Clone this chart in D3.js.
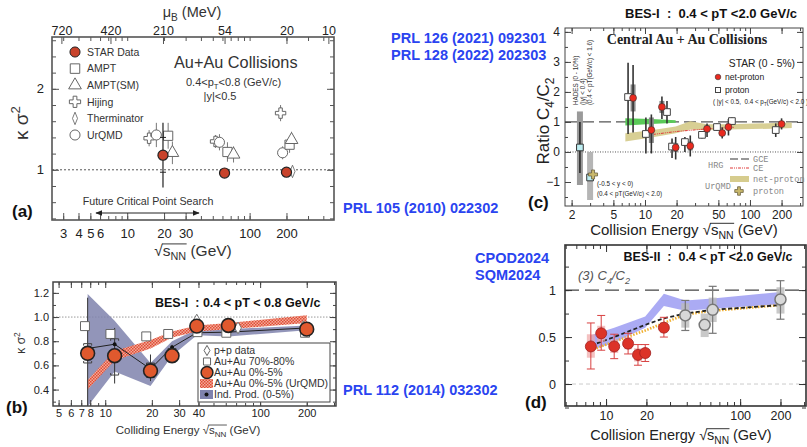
<!DOCTYPE html>
<html>
<head>
<meta charset="utf-8">
<script src="https://cdn.jsdelivr.net/npm/d3@7"></script>
<style>
  body { margin: 0; background: #fff; }
  text { font-family: "Liberation Sans", Arial, sans-serif; }
</style>
</head>
<body>
<script>
// ---------- (a) kappa*sigma^2, PRL 105 (2010) ----------
var aStarE = [19.6, 62.4, 200];
var aStarV = [1.18, 0.96, 0.97];
var aStarLo = [0.78, 0.94, 0.95];
var aStarHi = [1.58, 0.98, 0.99];
var aStarSysLo = [0.97, 0.95, 0.96];
var aStarSysHi = [1.40, 0.97, 0.98];
var aHijingE = [15.1, 52.7, 179];
var aHijingV = [1.39, 1.35, 1.70];
var aHijingErr = [0.1, 0.08, 0.1];
var aUrqmdE = [17.3, 56.7, 186];
var aUrqmdV = [1.43, 1.34, 1.21];
var aUrqmdErr = [0.15, 0.1, 0.08];
var aAmptE = [21.6, 65.9, 212];
var aAmptV = [1.42, 1.22, 1.31];
var aAmptErr = [0.16, 0.12, 0.1];
var aAmptSmE = [23.4, 73.9, 220];
var aAmptSmV = [1.21, 1.19, 1.37];
var aAmptSmErr = [0.14, 0.1, 0.1];
var aThermE = [224];
var aThermV = [0.98];
var aThermErr = [0.06];
var aXTicks = [3, 4, 5, 6, 10, 20, 30, 100, 200];
var aYTicks = [1, 2];
var aMuBE = [2.9, 7.3, 19.6, 62.4, 200, 440];
var aMuBLabels = ["720", "420", "210", "54", "20", "10"];
var aLegend = ["STAR Data", "AMPT", "AMPT(SM)", "Hijing", "Therminator", "UrQMD"];

// ---------- (b) kappa*sigma^2, PRL 112 (2014) ----------
var bE = [7.7, 11.5, 19.6, 27, 39, 62.4, 200];
var bCentral = [0.70, 0.68, 0.555, 0.68, 0.925, 0.93, 0.90];
var bStatLo = [0.26, 0.45, 0.47, 0.62, 0.88, 0.89, 0.87];
var bStatHi = [1.16, 0.91, 0.69, 0.77, 0.97, 0.97, 0.93];
var bSysLo = [0.62, 0.52, 0.50, 0.63, 0.89, 0.90, 0.88];
var bSysHi = [0.78, 0.82, 0.62, 0.74, 0.96, 0.96, 0.92];
var bIndProd = [0.74, 0.775, 0.57, 0.75, 0.87, 0.875, 0.91];
var bIndLo = [0.26, 0.55, 0.43, 0.68, 0.85, 0.84, 0.89];
var bIndHi = [1.19, 0.97, 0.62, 0.80, 0.90, 0.90, 0.93];
var bUrqmdLo = [0.40, 0.64, 0.74, 0.83, 0.88, 0.90, 0.95];
var bUrqmdHi = [0.48, 0.72, 0.81, 0.88, 0.93, 0.95, 1.015];
var bPeriphE = [7.4, 10.8, 18.4, 25.5, 39.4, 60.5, 195];
var bPeriphV = [0.925, 0.86, 0.84, 0.86, 0.875, 0.87, 0.87];
var bPpE = [39, 72, 190];
var bPpV = [0.975, 0.91, 0.92];
var bXTicks = [5, 6, 7, 8, 10, 20, 30, 40, 100, 200];
var bYTicks = [0.4, 0.6, 0.8, 1.0, 1.2];
var bLegend = ["p+p data", "Au+Au 70%-80%", "Au+Au 0%-5%", "Au+Au 0%-5% (UrQMD)", "Ind. Prod. (0-5%)"];

// ---------- (c) C4/C2, PRL 126 / PRL 128 ----------
var cE = [7.7, 11.5, 14.5, 19.6, 27, 39, 54.4, 62.4, 200];
var cNetP = [1.8, 0.73, 1.5, 0.15, 0.2, 0.77, 0.63, 0.83, 0.93];
var cNetPLo = [0.65, -0.05, 1.1, -0.25, -0.15, 0.5, 0.45, 0.55, 0.75];
var cNetPHi = [2.9, 1.25, 1.85, 0.5, 0.55, 0.95, 0.82, 1.1, 1.12];
var cNetPSysLo = [1.35, 0.3, 1.3, 0.0, 0.05, 0.65, 0.55, 0.72, 0.85];
var cNetPSysHi = [2.25, 1.15, 1.7, 0.3, 0.35, 0.9, 0.72, 0.95, 1.0];
var cProtE = [6.9, 10.2, 16.2, 18.1, 24.0, 34.9, 48.5, 67.3, 176];
var cProt = [1.83, 0.6, 1.33, 0.18, 0.33, 0.57, 0.83, 1.03, 0.73];
var cProtLo = [0.6, -0.05, 0.95, -0.2, 0.0, 0.45, 0.7, 0.9, 0.5];
var cProtHi = [2.97, 1.15, 1.7, 0.45, 0.5, 0.7, 0.95, 1.15, 0.95];
var cHadesE = [2.4];
var cHadesV = [0.15];
var cHadesLo = [-0.7];
var cHadesHi = [1.0];
var cHadesSysLo = [-1.1];
var cHadesSysHi = [1.35];
var cFxtE = [3.0];
var cFxtV = [-0.85];
var cFxtSysLo = [-1.6];
var cFxtSysHi = [0.0];
var cUrqmdProtE = [3.2];
var cUrqmdProtV = [-0.75];
var cGreenE = [6.5, 11.5, 19.6];
var cGreenLo = [0.88, 0.93, 0.97];
var cGreenHi = [1.12, 1.10, 1.06];
var cTanE = [6.5, 11.5, 19.6, 27, 39, 62.4, 200, 250];
var cTanLo = [0.35, 0.48, 0.62, 0.75, 0.72, 0.75, 0.78, 0.80];
var cTanHi = [0.62, 0.72, 0.85, 1.02, 0.92, 0.92, 0.97, 0.98];
var cCeE = [10, 19.6, 39, 70];
var cCeV = [0.55, 0.68, 0.77, 0.82];
var cXTicks = [2, 5, 10, 20, 50, 100, 200];
var cYTicks = [-1, 0, 1, 2, 3, 4];

// ---------- (d) C4/C2, CPOD2024 / SQM2024 ----------
var dE = [7.7, 9.2, 11.5, 14.6, 17.3, 19.6, 27];
var dV = [0.40, 0.54, 0.40, 0.43, 0.31, 0.33, 0.60];
var dLo = [0.16, 0.36, 0.27, 0.32, 0.20, 0.24, 0.50];
var dHi = [0.65, 0.73, 0.53, 0.54, 0.42, 0.42, 0.71];
var dSysLo = [0.28, 0.45, 0.33, 0.37, 0.24, 0.28, 0.55];
var dSysHi = [0.53, 0.62, 0.47, 0.50, 0.38, 0.38, 0.66];
var dOldE = [39, 54.4, 62.4, 200];
var dOldV = [0.73, 0.63, 0.79, 0.90];
var dOldLo = [0.57, 0.60, 0.54, 0.69];
var dOldHi = [0.89, 0.66, 1.04, 1.10];
var dOldSysLo = [0.60, 0.50, 0.66, 0.75];
var dOldSysHi = [0.86, 0.75, 0.92, 1.03];
var dBandE = [7.7, 11.5, 19.6, 27, 39, 62.4, 200];
var dBandLo = [0.36, 0.44, 0.60, 0.83, 0.78, 0.80, 0.85];
var dBandHi = [0.52, 0.60, 0.72, 0.96, 0.89, 0.91, 0.98];
var dHrgE = [7.7, 11.5, 19.6, 27, 39, 62.4, 200];
var dHrgV = [0.41, 0.50, 0.63, 0.70, 0.75, 0.79, 0.84];
var dCeV = [0.36, 0.45, 0.57, 0.65, 0.74, 0.78, 0.84];
var dXTicks = [10, 20, 100, 200];
var dYTicks = [0, 0.5, 1];

//---------- setup ----------
var svg = d3.select("body").append("svg").attr("width", 807).attr("height", 447);
var defs = svg.append("defs");

var hatch = defs.append("pattern").attr("id", "hatch").attr("width", 3).attr("height", 3)
    .attr("patternUnits", "userSpaceOnUse");
hatch.append("rect").attr("width", 3).attr("height", 3).attr("fill", "#f3ab98");
hatch.append("rect").attr("width", 1.5).attr("height", 1.5).attr("fill", "#e04c36");
hatch.append("rect").attr("x", 1.5).attr("y", 1.5).attr("width", 1.5).attr("height", 1.5).attr("fill", "#e04c36");

defs.append("marker").attr("id", "arr").attr("viewBox", "0 0 10 10").attr("refX", 9).attr("refY", 5)
    .attr("markerWidth", 7).attr("markerHeight", 7).attr("orient", "auto-start-reverse")
    .append("path").attr("d", "M0,1L10,5L0,9z").attr("fill", "#222");

function clipFor(id, x, y) {
    defs.append("clipPath").attr("id", id).append("rect")
        .attr("x", x.range()[0]).attr("y", y.range()[1])
        .attr("width", x.range()[1] - x.range()[0]).attr("height", y.range()[0] - y.range()[1]);
    return svg.append("g").attr("clip-path", "url(#" + id + ")");
}

// frame with inward ticks on all four sides
function drawAxes(x, y, o) {
    var l = x.range()[0], r = x.range()[1], b = y.range()[0], t = y.range()[1];
    var g = svg.append("g");
    var minorX = x.ticks();
    function add(axis, tx, ty) {
        g.append("g").attr("transform", "translate(" + tx + "," + ty + ")").call(axis);
    }
    add(d3.axisBottom(x).tickValues(minorX).tickFormat("").tickSizeInner(-o.minor).tickSizeOuter(0), 0, b);
    add(d3.axisBottom(x).tickValues(o.xMajor).tickFormat(d3.format("d")).tickSizeInner(-o.major)
        .tickSizeOuter(0).tickPadding(o.xPad), 0, b);
    add(d3.axisTop(x).tickValues(minorX).tickFormat("").tickSizeInner(-o.minor).tickSizeOuter(0), 0, t);
    if (o.topMajor) add(d3.axisTop(x).tickValues(o.xMajor).tickFormat("").tickSizeInner(-o.major).tickSizeOuter(0), 0, t);
    add(d3.axisLeft(y).tickValues(o.yMinor).tickFormat("").tickSizeInner(-o.minor).tickSizeOuter(0), l, 0);
    add(d3.axisLeft(y).tickValues(o.yMajor).tickFormat(o.yFmt).tickSizeInner(-o.major)
        .tickSizeOuter(0).tickPadding(o.yPad), l, 0);
    add(d3.axisRight(y).tickValues(o.yMinor).tickFormat("").tickSizeInner(-o.minor).tickSizeOuter(0), r, 0);
    add(d3.axisRight(y).tickValues(o.yMajor).tickFormat("").tickSizeInner(-o.major).tickSizeOuter(0), r, 0);
    g.selectAll(".domain").remove();
    g.selectAll("line").attr("stroke", o.color).attr("stroke-width", 1);
    g.selectAll("text").attr("font-size", o.fs).attr("fill", "#222");
    svg.append("rect").attr("x", l).attr("y", t).attr("width", r - l).attr("height", b - t)
        .attr("fill", "none").attr("stroke", o.color).attr("stroke-width", o.frameW);
    return g;
}

// text with sub/superscript parts: [[str, "sub"|"sup"|null], ...]
function rich(x, y, parts, fs, extra) {
    var t = svg.append("text").attr("x", x).attr("y", y).attr("font-size", fs).style("white-space", "pre");
    var shift = 0;
    parts.forEach(function (p) {
        var s = t.append("tspan").text(p[0]);
        var want = p[1] === "sub" ? fs * 0.28 : (p[1] === "sup" ? -fs * 0.42 : 0);
        if (want !== shift) { s.attr("dy", want - shift); shift = want; }
        if (p[1]) s.attr("font-size", fs * 0.7);
    });
    if (extra) extra(t);
    return t;
}

// "... sqrt(s_NN) (GeV)" label with an overline over s_NN
function sqrtLabel(cx, y, pre, fs, color) {
    var t = rich(cx, y, [[pre + "\u221A", null], ["s", null], ["NN", "sub"], [" (GeV)", null]], fs, function (t) {
        t.attr("text-anchor", "middle").attr("fill", color);
    });
    var n = (pre + "\u221A").length;
    var node = t.node();
    var e1 = node.getExtentOfChar(n - 1), e2 = node.getExtentOfChar(n + 2);
    svg.append("line").attr("x1", e1.x + e1.width - 0.8).attr("x2", e2.x + e2.width + 0.5)
        .attr("y1", y - fs * 0.78).attr("y2", y - fs * 0.78)
        .attr("stroke", color).attr("stroke-width", Math.max(0.8, fs / 16));
}

function points(g, x, y, E, V, type, size, fill, stroke, sw, sx) {
    g.selectAll(null).data(d3.zip(E, V)).join("path")
        .attr("transform", function (d) {
            return "translate(" + x(d[0]) + "," + y(d[1]) + ")" + (sx ? " scale(" + sx + ",1)" : "");
        })
        .attr("d", d3.symbol().type(type).size(size)())
        .attr("fill", fill).attr("stroke", stroke).attr("stroke-width", sw);
}

function errBars(g, x, y, E, lo, hi, color, w, cap) {
    var rows = d3.zip(E, lo, hi);
    g.selectAll(null).data(rows).join("line")
        .attr("x1", function (d) { return x(d[0]); }).attr("x2", function (d) { return x(d[0]); })
        .attr("y1", function (d) { return y(d[1]); }).attr("y2", function (d) { return y(d[2]); })
        .attr("stroke", color).attr("stroke-width", w);
    if (cap) {
        [1, 2].forEach(function (k) {
            g.selectAll(null).data(rows).join("line")
                .attr("x1", function (d) { return x(d[0]) - cap; }).attr("x2", function (d) { return x(d[0]) + cap; })
                .attr("y1", function (d) { return y(d[k]); }).attr("y2", function (d) { return y(d[k]); })
                .attr("stroke", color).attr("stroke-width", w || 1);
        });
    }
}

function band(g, x, y, E, lo, hi, fill, op) {
    var area = d3.area()
        .x(function (d) { return x(d[0]); })
        .y0(function (d) { return y(d[1]); })
        .y1(function (d) { return y(d[2]); });
    g.append("path").datum(d3.zip(E, lo, hi)).attr("d", area).attr("fill", fill).attr("fill-opacity", op || 1);
}

function curve(g, x, y, E, V, color, w, dash) {
    var line = d3.line().x(function (d) { return x(d[0]); }).y(function (d) { return y(d[1]); });
    g.append("path").datum(d3.zip(E, V)).attr("d", line).attr("fill", "none")
        .attr("stroke", color).attr("stroke-width", w).attr("stroke-dasharray", dash || null);
}

function hline(g, x, y, v, color, w, dash) {
    g.append("line").attr("x1", x.range()[0]).attr("x2", x.range()[1])
        .attr("y1", y(v)).attr("y2", y(v)).attr("stroke", color).attr("stroke-width", w)
        .attr("stroke-dasharray", dash);
}

function label(x, y, str, fs, o) {
    o = o || {};
    return svg.append("text").attr("x", x).attr("y", y).attr("font-size", fs)
        .attr("font-weight", o.bold ? "bold" : null).attr("font-style", o.italic ? "italic" : null)
        .attr("fill", o.fill || "#222").attr("text-anchor", o.anchor || "start")
        .style("font-family", o.family || null).style("white-space", "pre").text(str);
}

var blue = "#2a44f0";

//---------- panel (a) ----------
var aX = d3.scaleLog().domain([2.43, 489]).range([52, 334]);
var aY = d3.scaleLinear().domain([0.38, 2.64]).range([220, 37]);
var aG = clipFor("clipA", aX, aY);
hline(aG, aX, aY, 1, "#555", 1, "2,2");
drawAxes(aX, aY, {
    xMajor: aXTicks, yMajor: aYTicks, yMinor: d3.range(0.4, 2.61, 0.2), yFmt: d3.format("d"),
    major: 7, minor: 4, xPad: 9, yPad: 8, fs: 13, color: "#555", frameW: 1.6
});
// top mu_B axis
svg.append("g").attr("transform", "translate(0,37)")
    .call(d3.axisTop(aX).tickValues(aMuBE).tickFormat(function (d, i) { return aMuBLabels[i]; })
        .tickSizeInner(-7).tickSizeOuter(0).tickPadding(2))
    .call(function (g) {
        g.select(".domain").remove();
        g.selectAll("line").attr("stroke", "#555");
        g.selectAll("text").attr("font-size", 12.5).attr("fill", "#222");
    });
rich(192, 17, [["\u03BC", null], ["B", "sub"], [" (MeV)", null]], 14.5, function (t) {
    t.attr("text-anchor", "middle").attr("fill", "#333");
});

// models
errBars(aG, aX, aY, aHijingE, aHijingV.map(function (v, i) { return v - aHijingErr[i]; }),
    aHijingV.map(function (v, i) { return v + aHijingErr[i]; }), "#777", 1);
errBars(aG, aX, aY, aUrqmdE, aUrqmdV.map(function (v, i) { return v - aUrqmdErr[i]; }),
    aUrqmdV.map(function (v, i) { return v + aUrqmdErr[i]; }), "#777", 1);
errBars(aG, aX, aY, aAmptE, aAmptV.map(function (v, i) { return v - aAmptErr[i]; }),
    aAmptV.map(function (v, i) { return v + aAmptErr[i]; }), "#777", 1);
errBars(aG, aX, aY, aAmptSmE, aAmptSmV.map(function (v, i) { return v - aAmptSmErr[i]; }),
    aAmptSmV.map(function (v, i) { return v + aAmptSmErr[i]; }), "#777", 1);
errBars(aG, aX, aY, aThermE, aThermV.map(function (v, i) { return v - aThermErr[i]; }),
    aThermV.map(function (v, i) { return v + aThermErr[i]; }), "#777", 1);
points(aG, aX, aY, aHijingE, aHijingV, d3.symbolCross, 60, "#fff", "#666", 1);
points(aG, aX, aY, aUrqmdE, aUrqmdV, d3.symbolCircle, 80, "#fff", "#666", 1);
points(aG, aX, aY, aAmptE, aAmptV, d3.symbolSquare, 85, "#fff", "#666", 1);
points(aG, aX, aY, aAmptSmE, aAmptSmV, d3.symbolTriangle, 70, "#fff", "#666", 1);
points(aG, aX, aY, aThermE, aThermV, d3.symbolDiamond, 45, "#fff", "#666", 1, 0.7);
// STAR data
errBars(aG, aX, aY, aStarE, aStarLo, aStarHi, "#222", 1.2);
errBars(aG, aX, aY, aStarE, aStarSysLo, aStarSysHi, "#222", 0, 3);
points(aG, aX, aY, aStarE, aStarV, d3.symbolCircle, 80, "#c8432b", "#222", 1.2);

// legend (a)
var aLegSym = [
    [d3.symbolCircle, 80, "#c8432b", "#222", 1],
    [d3.symbolSquare, 90, "#fff", "#666", 1],
    [d3.symbolTriangle, 70, "#fff", "#666", 1],
    [d3.symbolCross, 70, "#fff", "#666", 1],
    [d3.symbolDiamond, 45, "#fff", "#666", 1, 0.7],
    [d3.symbolCircle, 80, "#fff", "#666", 1]
];
aLegend.forEach(function (name, i) {
    var yy = 52 + i * 16.6, s = aLegSym[i];
    svg.append("path").attr("d", d3.symbol().type(s[0]).size(s[1])())
        .attr("transform", "translate(75," + yy + ")" + (s[5] ? " scale(" + s[5] + ",1)" : ""))
        .attr("fill", s[2]).attr("stroke", s[3]).attr("stroke-width", s[4]);
    label(87, yy + 3.8, name, 10.5, {fill: "#333"});
});
label(174, 68, "Au+Au Collisions", 16.3, {fill: "#333"});
rich(186, 86, [["0.4<p", null], ["T", "sub"], ["<0.8 (GeV/c)", null]], 11, function (t) { t.attr("fill", "#333"); });
label(220, 100, "|y|<0.5", 11, {fill: "#333", anchor: "middle"});
label(148, 205, "Future Critical Point Search", 10.7, {fill: "#333", anchor: "middle"});
svg.append("line").attr("x1", 96).attr("x2", 199).attr("y1", 213).attr("y2", 213)
    .attr("stroke", "#222").attr("stroke-width", 1)
    .attr("marker-start", "url(#arr)").attr("marker-end", "url(#arr)");
label(12, 217, "(a)", 17, {bold: true, fill: "#111"});
rich(0, 0, [["\u03BA \u03C3", null], ["2", "sup"]], 19, function (t) {
    t.attr("transform", "translate(28,123) rotate(-90)").attr("text-anchor", "middle").attr("fill", "#333");
});
sqrtLabel(193, 256, "", 15.5, "#333");
label(343, 213, "PRL 105 (2010) 022302", 14.5, {bold: true, fill: blue});

//---------- panel (b) ----------
var bX = d3.scaleLog().domain([4.6, 309]).range([53, 336]);
var bY = d3.scaleLinear().domain([0.264, 1.29]).range([406, 282]);
var bG = clipFor("clipB", bX, bY);
hline(bG, bX, bY, 1, "#999", 1, "1.5,1.5");
band(bG, bX, bY, bE, bIndLo, bIndHi, "#7f82ad", 0.85);
band(bG, bX, bY, bE, bUrqmdLo, bUrqmdHi, "url(#hatch)", 1);
errBars(bG, bX, bY, bE, bStatLo, bStatHi, "#333", 1);
curve(bG, bX, bY, bE, bIndProd, "#222", 1);
points(bG, bX, bY, bE, bIndProd, d3.symbolCircle, 12, "#111", "none", 0);
points(bG, bX, bY, bPeriphE, bPeriphV, d3.symbolSquare, 80, "#fff", "#666", 1);
points(bG, bX, bY, bPpE, bPpV, d3.symbolDiamond, 40, "#fff", "#777", 1);
bG.selectAll(null).data(d3.zip(bE, bSysLo, bSysHi)).join("path")
    .attr("d", function (d) {
        var xx = bX(d[0]), lo = bY(d[1]), hi = bY(d[2]);
        return "M" + (xx - 4) + "," + (hi + 2) + "V" + hi + "H" + (xx + 4) + "V" + (hi + 2) +
            "M" + (xx - 4) + "," + (lo - 2) + "V" + lo + "H" + (xx + 4) + "V" + (lo - 2);
    })
    .attr("fill", "none").attr("stroke", "#444").attr("stroke-width", 1);
points(bG, bX, bY, bE, bCentral, d3.symbolCircle, 150, "#e0592e", "#222", 1.6);
drawAxes(bX, bY, {
    xMajor: bXTicks, yMajor: bYTicks, yMinor: d3.range(0.3, 1.29, 0.1), yFmt: d3.format(".1f"),
    major: 6, minor: 3, xPad: 3, yPad: 4, fs: 11, color: "#444", frameW: 1.5, topMajor: true
});
label(155, 307, "BES-I  : 0.4 < pT < 0.8 GeV/c", 12.5, {bold: true, fill: "#111"});
// legend (b)
svg.append("rect").attr("x", 198).attr("y", 343).attr("width", 132).attr("height", 59)
    .attr("fill", "#fff").attr("stroke", "#444").attr("stroke-width", 1);
var bLegY = [350.5, 361.5, 372.5, 383.5, 394.5];
svg.append("path").attr("d", d3.symbol().type(d3.symbolDiamond).size(30)())
    .attr("transform", "translate(207," + bLegY[0] + ")").attr("fill", "#fff").attr("stroke", "#666");
svg.append("path").attr("d", d3.symbol().type(d3.symbolSquare).size(50)())
    .attr("transform", "translate(207," + bLegY[1] + ")").attr("fill", "#fff").attr("stroke", "#666");
svg.append("path").attr("d", d3.symbol().type(d3.symbolCircle).size(110)())
    .attr("transform", "translate(207," + bLegY[2] + ")").attr("fill", "#e0592e").attr("stroke", "#222").attr("stroke-width", 1.5);
svg.append("rect").attr("x", 200).attr("y", bLegY[3] - 4.5).attr("width", 13).attr("height", 9).attr("fill", "url(#hatch)");
svg.append("rect").attr("x", 200).attr("y", bLegY[4] - 4.5).attr("width", 13).attr("height", 9).attr("fill", "#7f82ad");
svg.append("circle").attr("cx", 206.5).attr("cy", bLegY[4]).attr("r", 2).attr("fill", "#111");
bLegend.forEach(function (name, i) {
    label(214, bLegY[i] + 3.7, name, 10.5, {fill: "#333"});
});
label(6, 413, "(b)", 17, {bold: true, fill: "#111"});
rich(0, 0, [["\u03BA \u03C3", null], ["2", "sup"]], 12, function (t) {
    t.attr("transform", "translate(25,343) rotate(-90)").attr("text-anchor", "middle").attr("fill", "#333");
});
sqrtLabel(188, 434, "Colliding Energy ", 11.5, "#333");
label(343, 395, "PRL 112 (2014) 032302", 14.5, {bold: true, fill: blue});

//---------- panel (c) ----------
var cX = d3.scaleLog().domain([1.73, 320]).range([565, 803]);
var cY = d3.scaleLinear().domain([-1.8, 4.13]).range([206, 28]);
var cG = clipFor("clipC", cX, cY);
hline(cG, cX, cY, 0, "#555", 1, "1,1.5");
hline(cG, cX, cY, 1, "#555", 1.2, "12,5");
band(cG, cX, cY, cTanE, cTanLo, cTanHi, "#d6cc8e", 0.95);
band(cG, cX, cY, cGreenE, cGreenLo, cGreenHi, "#59c957", 1);
curve(cG, cX, cY, cCeE, cCeV, "#e03a3a", 1, "3,1,1,1,1,1");
// HADES and FXT
cG.selectAll(null).data(d3.zip(cHadesE, cHadesSysLo, cHadesSysHi)).join("rect")
    .attr("x", function (d) { return cX(d[0]) - 3; }).attr("width", 6)
    .attr("y", function (d) { return cY(d[2]); }).attr("height", function (d) { return cY(d[1]) - cY(d[2]); })
    .attr("fill", "#9a9a9a");
errBars(cG, cX, cY, cHadesE, cHadesLo, cHadesHi, "#222", 1.5);
cG.selectAll(null).data(d3.zip(cFxtE, cFxtSysLo, cFxtSysHi)).join("rect")
    .attr("x", function (d) { return cX(d[0]) - 3; }).attr("width", 6)
    .attr("y", function (d) { return cY(d[2]); }).attr("height", function (d) { return cY(d[1]) - cY(d[2]); })
    .attr("fill", "#b5b5b5");
points(cG, cX, cY, cHadesE, cHadesV, d3.symbolSquare, 45, "#bdeef2", "#333", 1);
points(cG, cX, cY, cFxtE, cFxtV, d3.symbolSquare, 45, "#bdeef2", "#333", 1);
points(cG, cX, cY, cUrqmdProtE, cUrqmdProtV, d3.symbolCross, 45, "#c9b86c", "#6a6040", 0.8);
// STAR BES-I
cG.selectAll(null).data(d3.zip(cE, cNetPSysLo, cNetPSysHi)).join("rect")
    .attr("x", function (d) { return cX(d[0]) - 2.5; }).attr("width", 5)
    .attr("y", function (d) { return cY(d[2]); }).attr("height", function (d) { return cY(d[1]) - cY(d[2]); })
    .attr("fill", "#8a8a8a");
errBars(cG, cX, cY, cProtE, cProtLo, cProtHi, "#333", 1.6);
errBars(cG, cX, cY, cE, cNetPLo, cNetPHi, "#333", 1.6);
points(cG, cX, cY, cProtE, cProt, d3.symbolSquare, 45, "#fff", "#444", 1);
points(cG, cX, cY, cE, cNetP, d3.symbolCircle, 38, "#ea2a1f", "#333", 0.6);
drawAxes(cX, cY, {
    xMajor: cXTicks, yMajor: cYTicks, yMinor: d3.range(-1.5, 4.1, 0.5), yFmt: d3.format("d"),
    major: 6, minor: 3, xPad: 4, yPad: 5, fs: 12, color: "#444", frameW: 1, topMajor: true
});
label(711, 18, "BES-I  :  0.4 < pT <2.0 GeV/c", 13, {bold: true, fill: "#111", anchor: "middle"});
label(687, 44, "Central Au + Au Collisions", 14, {bold: true, fill: "#222", anchor: "middle", family: "'Liberation Serif', 'Times New Roman', serif"});
label(795, 67, "STAR (0 - 5%)", 10.3, {fill: "#222", anchor: "end"});
svg.append("circle").attr("cx", 718).attr("cy", 77).attr("r", 2.8).attr("fill", "#ea2a1f").attr("stroke", "#333").attr("stroke-width", 0.6);
label(725, 80, "net-proton", 8.6, {fill: "#222"});
svg.append("rect").attr("x", 715.5).attr("y", 87.5).attr("width", 5).attr("height", 5).attr("fill", "#fff").attr("stroke", "#444");
label(725, 93, "proton", 8.6, {fill: "#222"});
rich(713, 104, [["( |y| < 0.5,  0.4 < p", null], ["T", "sub"], ["(GeV/c) < 2.0 )", null]], 6.3, function (t) { t.attr("fill", "#222"); });
// HADES annotation
[["HADES (0 - 10%)", 578], ["(|y| < 0.4)", 585], ["(0.4 < pT(GeV/c) < 1.6)", 592]].forEach(function (r) {
    svg.append("text").attr("transform", "translate(" + r[1] + ",105) rotate(-90)")
        .attr("font-size", 6.3).attr("fill", "#333").text(r[0]);
});
label(597, 186, "(-0.5 < y < 0)", 6.3, {fill: "#222"});
label(597, 196, "(0.4 < pT(GeV/c) < 2.0)", 6.3, {fill: "#222"});
// HRG / UrQMD legend
var mono = "'Liberation Mono', 'Courier New', monospace";
label(708, 168, "HRG", 8.6, {fill: "#888", family: mono});
label(705, 189, "UrQMD", 8.6, {fill: "#888", family: mono});
svg.append("line").attr("x1", 730).attr("x2", 749).attr("y1", 159).attr("y2", 159)
    .attr("stroke", "#333").attr("stroke-width", 1.2).attr("stroke-dasharray", "8,3");
svg.append("line").attr("x1", 730).attr("x2", 749).attr("y1", 168).attr("y2", 168)
    .attr("stroke", "#e03a3a").attr("stroke-width", 1).attr("stroke-dasharray", "3,1,1,1,1,1");
svg.append("rect").attr("x", 730).attr("y", 176).attr("width", 19).attr("height", 6).attr("fill", "#d6cc8e");
svg.append("path").attr("d", d3.symbol().type(d3.symbolCross).size(40)()).attr("transform", "translate(739,191)")
    .attr("fill", "#c9b86c").attr("stroke", "#6a6040").attr("stroke-width", 0.8);
label(753, 162, "GCE", 8.6, {fill: "#888", family: mono});
label(753, 171, "CE", 8.6, {fill: "#888", family: mono});
label(753, 182, "net-proton", 8.6, {fill: "#888", family: mono});
label(753, 194, "proton", 8.6, {fill: "#888", family: mono});
label(528, 208, "(c)", 17, {bold: true, fill: "#111"});
rich(0, 0, [["Ratio C", null], ["4", "sub"], ["/C", null], ["2", "sub"]], 17, function (t) {
    t.attr("transform", "translate(549,121) rotate(-90)").attr("text-anchor", "middle").attr("fill", "#222");
});
sqrtLabel(684, 235, "Collision Energy ", 15, "#222");
label(391, 43, "PRL 126 (2021) 092301", 14.5, {bold: true, fill: blue});
label(391, 60, "PRL 128 (2022) 202303", 14.5, {bold: true, fill: blue});

//---------- panel (d) ----------
var dX = d3.scaleLog().domain([4.94, 310]).range([565, 806]);
var dY = d3.scaleLinear().domain([-0.234, 1.48]).range([406, 245]);
var dG = clipFor("clipD", dX, dY);
hline(dG, dX, dY, 0, "#ccc", 1, "4,3");
hline(dG, dX, dY, 1, "#444", 1.2, "14,6");
band(dG, dX, dY, dBandE, dBandLo, dBandHi, "#8f8ff0", 0.75);
curve(dG, dX, dY, dHrgE, dCeV, "#f0b030", 2.6, "1.5,1.5");
curve(dG, dX, dY, dHrgE, dHrgV, "#222", 1.8, "4,2.5");
dG.selectAll(null).data(d3.zip(dOldE, dOldSysLo, dOldSysHi)).join("rect")
    .attr("x", function (d) { return dX(d[0]) - 4; }).attr("width", 8)
    .attr("y", function (d) { return dY(d[2]); }).attr("height", function (d) { return dY(d[1]) - dY(d[2]); })
    .attr("fill", "#bbb").attr("fill-opacity", 0.8);
errBars(dG, dX, dY, dOldE, dOldLo, dOldHi, "#777", 1.2, 4);
points(dG, dX, dY, dOldE, dOldV, d3.symbolCircle, 95, "#d8d8d8", "#777", 1.5);
dG.selectAll(null).data(d3.zip(dE, dSysLo, dSysHi)).join("rect")
    .attr("x", function (d) { return dX(d[0]) - 4; }).attr("width", 8)
    .attr("y", function (d) { return dY(d[2]); }).attr("height", function (d) { return dY(d[1]) - dY(d[2]); })
    .attr("fill", "#f0a6a6").attr("fill-opacity", 0.7);
errBars(dG, dX, dY, dE, dLo, dHi, "#d84040", 1, 4);
points(dG, dX, dY, dE, dV, d3.symbolCircle, 95, "#dc3328", "#a02020", 0.8);
drawAxes(dX, dY, {
    xMajor: dXTicks, yMajor: dYTicks, yMinor: d3.range(-0.25, 1.49, 0.25), yFmt: d3.format(""),
    major: 7, minor: 4, xPad: 5, yPad: 9, fs: 12.5, color: "#333", frameW: 1.6, topMajor: true
});
label(708, 261, "BES-II  :  0.4 < pT <2.0 GeV/c", 12.5, {bold: true, fill: "#111", anchor: "middle"});
rich(578, 280, [["(3) C", null], ["4", "sub"], ["/C", null], ["2", "sub"]], 13, function (t) {
    t.attr("font-style", "italic").attr("fill", "#555");
});
label(525, 408, "(d)", 17, {bold: true, fill: "#111"});
sqrtLabel(681, 440, "Collision Energy ", 14.5, "#222");
label(475, 263, "CPOD2024", 14.5, {bold: true, fill: blue});
label(475, 280, "SQM2024", 14.5, {bold: true, fill: blue});
</script>
</body>
</html>
